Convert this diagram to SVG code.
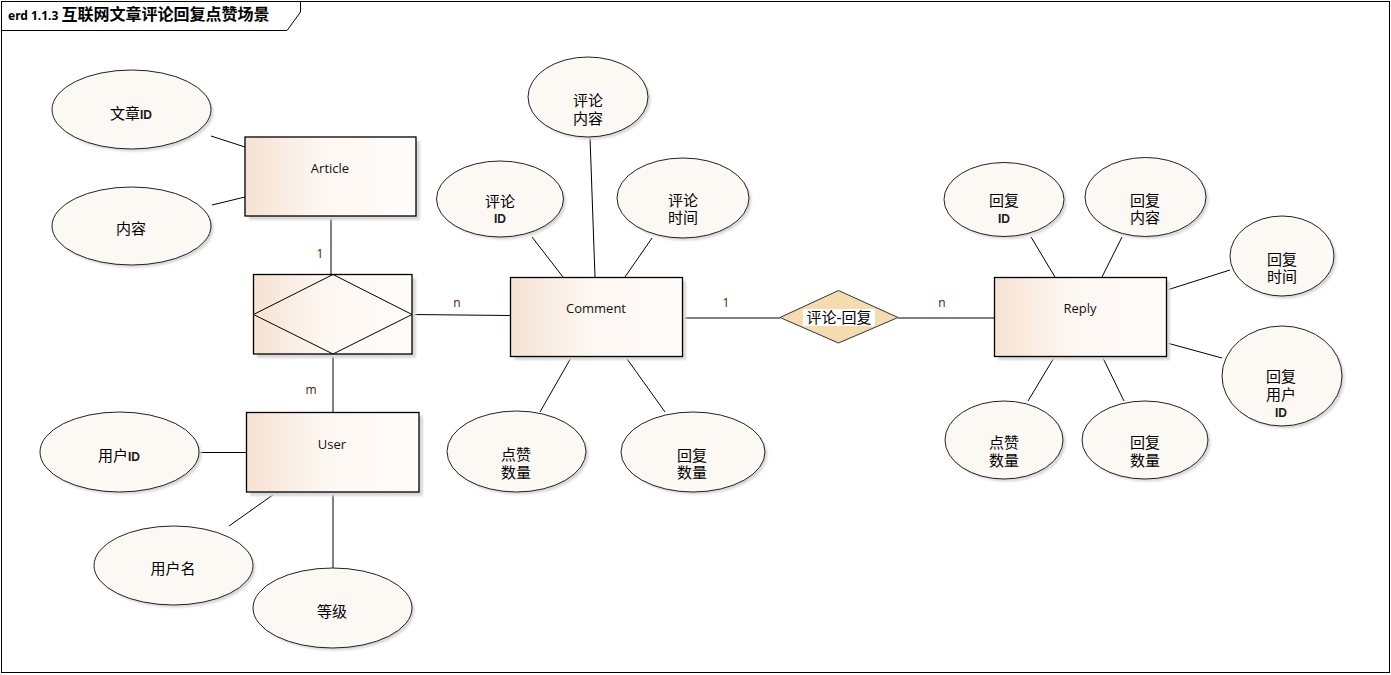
<svg xmlns="http://www.w3.org/2000/svg" width="1391" height="675" viewBox="0 0 1391 675">
  <style>
    .frame { fill: #ffffff; stroke: #000000; stroke-width: 1; }
    .ent { fill: url(#entFill); stroke: #000000; stroke-width: 1.3; }
    .shadow { fill: #d8d8d8; }
    .attr { fill: #fcf8f4; stroke: #222222; stroke-width: 1; }
    .conn line { stroke: #000000; stroke-width: 1; }
    .ename { font-family: "Open Sans", "Noto Sans", sans-serif; font-size: 13px; fill: #111111; text-anchor: middle; }
    .cn { font-family: "Liberation Sans", "Noto Sans CJK SC", sans-serif; font-size: 15px; fill: #000000; text-anchor: middle; }
    .id { font-family: "Liberation Sans", "Noto Sans", sans-serif; font-size: 12px; font-weight: bold; fill: #1a1a1a; }
    .card { font-family: "Open Sans", "Noto Sans", sans-serif; font-size: 12px; fill: #4a2200; text-anchor: middle; }
  </style>
  <defs>
    <linearGradient id="entFill" x1="0" y1="0" x2="1" y2="0">
      <stop offset="0" stop-color="#f6e2d2"/>
      <stop offset="0.45" stop-color="#fdf7f2"/>
      <stop offset="1" stop-color="#fefbf9"/>
    </linearGradient>
    <filter id="soft" x="-10%" y="-10%" width="130%" height="130%">
      <feGaussianBlur stdDeviation="1.2"/>
    </filter>
  </defs>

  <!-- diagram frame and title tab -->
  <rect class="frame" x="1.5" y="1.5" width="1388" height="671"/>
  <path d="M1.5 30.5 H287 L300.5 12 V1.5" fill="none" stroke="#000" stroke-width="1"/>
  <text x="8" y="20" font-family="'Noto Sans', 'Noto Sans CJK SC', sans-serif" font-weight="bold" fill="#000"><tspan font-size="12">erd 1.1.3 </tspan><tspan font-size="16" font-family="'Noto Sans CJK SC', sans-serif">互联网文章评论回复点赞场景</tspan></text>

  <!-- connectors -->
  <g id="connectors" class="conn">
    <line x1="211" y1="136" x2="245" y2="147"/>
    <line x1="212" y1="205" x2="245" y2="197"/>
    <line x1="331" y1="216" x2="331" y2="274"/>
    <line x1="333" y1="354" x2="333" y2="412"/>
    <line x1="412" y1="314.5" x2="510" y2="315.5"/>
    <line x1="199" y1="452.5" x2="246" y2="452.5"/>
    <line x1="229" y1="526" x2="277" y2="492"/>
    <line x1="333" y1="492" x2="333" y2="568"/>
    <line x1="590" y1="137" x2="595" y2="277"/>
    <line x1="532" y1="237" x2="563" y2="277"/>
    <line x1="652" y1="238" x2="625" y2="277"/>
    <line x1="572" y1="356" x2="540" y2="412"/>
    <line x1="625" y1="356" x2="665" y2="412"/>
    <line x1="682" y1="318" x2="780" y2="318"/>
    <line x1="898" y1="318" x2="994" y2="318"/>
    <line x1="1031" y1="237" x2="1055" y2="277"/>
    <line x1="1122" y1="237" x2="1102" y2="277"/>
    <line x1="1167" y1="290" x2="1230" y2="270"/>
    <line x1="1167" y1="343" x2="1222" y2="358"/>
    <line x1="1055" y1="356" x2="1028" y2="401"/>
    <line x1="1102" y1="356" x2="1124" y2="401"/>
    <text class="card" x="320" y="258">1</text>
    <text class="card" x="311" y="394">m</text>
    <text class="card" x="457" y="307">n</text>
    <text class="card" x="726" y="307">1</text>
    <text class="card" x="942" y="307">n</text>
  </g>

  <!-- Article entity -->
  <g id="article">
    <rect class="shadow" x="249" y="141" width="171" height="79" filter="url(#soft)"/>
    <rect class="ent" x="245" y="137" width="171" height="79"/>
    <text class="ename" x="330" y="173">Article</text>
  </g>
  <g id="article-id">
    <ellipse class="shadow" cx="134" cy="112" rx="79.5" ry="39.5" filter="url(#soft)"/>
    <ellipse class="attr" cx="131.5" cy="109.5" rx="79.5" ry="39.5"/>
    <text class="cn" x="131" y="119">文章<tspan class="id">ID</tspan></text>
  </g>
  <g id="article-content">
    <ellipse class="shadow" cx="134" cy="228.5" rx="79.5" ry="39" filter="url(#soft)"/>
    <ellipse class="attr" cx="131.5" cy="226" rx="79.5" ry="39"/>
    <text class="cn" x="131" y="234">内容</text>
  </g>

  <!-- Article-User associative relationship -->
  <g id="article-user-rel">
    <rect class="shadow" x="257" y="278" width="159" height="80" filter="url(#soft)"/>
    <rect class="ent" x="253.5" y="274.5" width="158.5" height="79.5"/>
    <path d="M333 274.5 L412 314.5 L333 354 L253.5 314.5 Z" fill="none" stroke="#000" stroke-width="1"/>
  </g>

  <!-- User entity -->
  <g id="user">
    <rect class="shadow" x="250" y="416" width="173" height="80" filter="url(#soft)"/>
    <rect class="ent" x="246.5" y="412.5" width="172.5" height="79.5"/>
    <text class="ename" x="332" y="449">User</text>
  </g>
  <g id="user-id">
    <ellipse class="shadow" cx="122" cy="454.5" rx="79.5" ry="40" filter="url(#soft)"/>
    <ellipse class="attr" cx="119.5" cy="452" rx="79.5" ry="40"/>
    <text class="cn" x="119" y="461">用户<tspan class="id">ID</tspan></text>
  </g>
  <g id="user-name">
    <ellipse class="shadow" cx="176" cy="568" rx="79.5" ry="39.5" filter="url(#soft)"/>
    <ellipse class="attr" cx="173.5" cy="565.5" rx="79.5" ry="39.5"/>
    <text class="cn" x="173" y="574">用户名</text>
  </g>
  <g id="user-level">
    <ellipse class="shadow" cx="335" cy="610.5" rx="79.5" ry="40" filter="url(#soft)"/>
    <ellipse class="attr" cx="332.5" cy="608" rx="79.5" ry="40"/>
    <text class="cn" x="332" y="617">等级</text>
  </g>

  <!-- Comment entity -->
  <g id="comment">
    <rect class="shadow" x="514" y="281" width="172" height="79" filter="url(#soft)"/>
    <rect class="ent" x="510.5" y="277.5" width="172" height="79"/>
    <text class="ename" x="596" y="313">Comment</text>
  </g>
  <g id="comment-content">
    <ellipse class="shadow" cx="590.5" cy="99.5" rx="60" ry="40" filter="url(#soft)"/>
    <ellipse class="attr" cx="588" cy="97" rx="60" ry="40"/>
    <text class="cn" x="588" y="106">评论<tspan x="588" dy="18">内容</tspan></text>
  </g>
  <g id="comment-id">
    <ellipse class="shadow" cx="502.5" cy="201.5" rx="63.5" ry="38" filter="url(#soft)"/>
    <ellipse class="attr" cx="500" cy="199" rx="63.5" ry="38"/>
    <text class="cn" x="500" y="207">评论<tspan class="id" x="500" dy="16">ID</tspan></text>
  </g>
  <g id="comment-time">
    <ellipse class="shadow" cx="685.5" cy="200.5" rx="66" ry="40" filter="url(#soft)"/>
    <ellipse class="attr" cx="683" cy="198" rx="66" ry="40"/>
    <text class="cn" x="683" y="206">评论<tspan x="683" dy="17">时间</tspan></text>
  </g>
  <g id="comment-likes">
    <ellipse class="shadow" cx="519" cy="454" rx="69.5" ry="40.5" filter="url(#soft)"/>
    <ellipse class="attr" cx="516.5" cy="451.5" rx="69.5" ry="40.5"/>
    <text class="cn" x="516" y="460">点赞<tspan x="516" dy="18">数量</tspan></text>
  </g>
  <g id="comment-replies">
    <ellipse class="shadow" cx="695.5" cy="454.5" rx="72" ry="40" filter="url(#soft)"/>
    <ellipse class="attr" cx="693" cy="452" rx="72" ry="40"/>
    <text class="cn" x="692" y="461">回复<tspan x="692" dy="17">数量</tspan></text>
  </g>

  <!-- Comment-Reply relationship -->
  <g id="comment-reply-rel">
    <path d="M780 317.5 L838.5 290.5 L898 317.5 L838.5 343 Z" fill="#f5dcae" stroke="#333" stroke-width="1"/>
    <rect x="803" y="309" width="72" height="17" fill="#ffffff"/>
    <text class="cn" x="839" y="323">评论-回复</text>
  </g>

  <!-- Reply entity -->
  <g id="reply">
    <rect class="shadow" x="998" y="281" width="172" height="79" filter="url(#soft)"/>
    <rect class="ent" x="994.5" y="277.5" width="172" height="79"/>
    <text class="ename" x="1080" y="313">Reply</text>
  </g>
  <g id="reply-id">
    <ellipse class="shadow" cx="1006.5" cy="202" rx="60" ry="37" filter="url(#soft)"/>
    <ellipse class="attr" cx="1004" cy="199.5" rx="60" ry="37"/>
    <text class="cn" x="1004" y="206">回复<tspan class="id" x="1004" dy="17">ID</tspan></text>
  </g>
  <g id="reply-content">
    <ellipse class="shadow" cx="1148" cy="199.5" rx="60.5" ry="39.5" filter="url(#soft)"/>
    <ellipse class="attr" cx="1145.5" cy="197" rx="60.5" ry="39.5"/>
    <text class="cn" x="1145" y="206">回复<tspan x="1145" dy="17">内容</tspan></text>
  </g>
  <g id="reply-time">
    <ellipse class="shadow" cx="1284.5" cy="258.5" rx="52" ry="40" filter="url(#soft)"/>
    <ellipse class="attr" cx="1282" cy="256" rx="52" ry="40"/>
    <text class="cn" x="1282" y="265">回复<tspan x="1282" dy="17">时间</tspan></text>
  </g>
  <g id="reply-user-id">
    <ellipse class="shadow" cx="1284.5" cy="378.5" rx="60" ry="50" filter="url(#soft)"/>
    <ellipse class="attr" cx="1282" cy="376" rx="60" ry="50"/>
    <text class="cn" x="1281" y="382">回复<tspan x="1281" dy="18">用户</tspan><tspan class="id" x="1281" dy="17">ID</tspan></text>
  </g>
  <g id="reply-likes">
    <ellipse class="shadow" cx="1006.5" cy="442.5" rx="59" ry="39" filter="url(#soft)"/>
    <ellipse class="attr" cx="1004" cy="440" rx="59" ry="39"/>
    <text class="cn" x="1004" y="448">点赞<tspan x="1004" dy="18">数量</tspan></text>
  </g>
  <g id="reply-replies">
    <ellipse class="shadow" cx="1147.5" cy="442.5" rx="63" ry="39" filter="url(#soft)"/>
    <ellipse class="attr" cx="1145" cy="440" rx="63" ry="39"/>
    <text class="cn" x="1145" y="448">回复<tspan x="1145" dy="18">数量</tspan></text>
  </g>
</svg>
